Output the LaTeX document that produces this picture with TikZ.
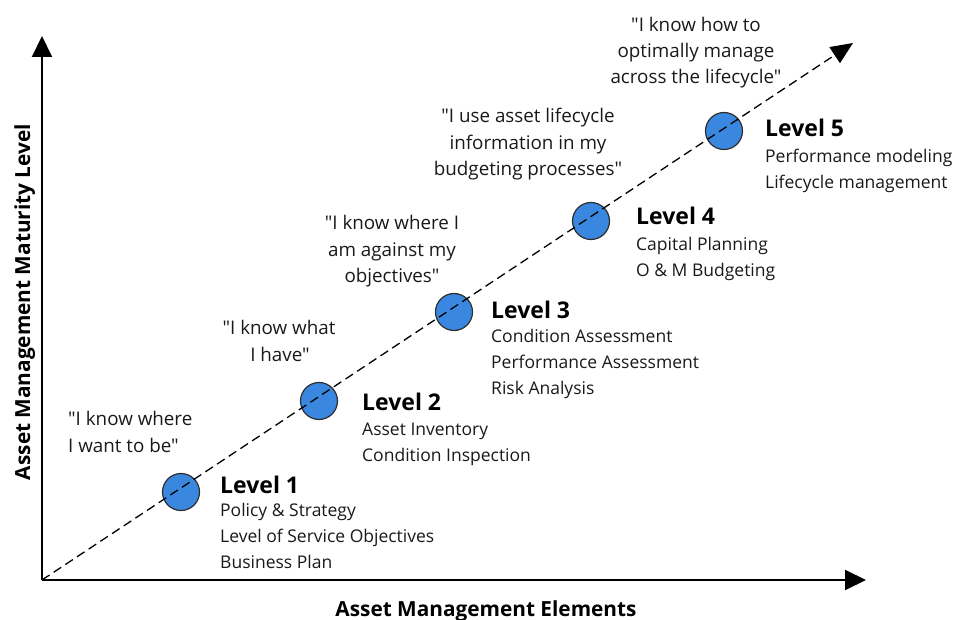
\documentclass[tikz,border=0pt]{standalone}
\usepackage{fontspec}
\newfontfamily\osans{Open Sans}
\usetikzlibrary{arrows.meta}
\definecolor{dotblue}{HTML}{3A87E0}
\definecolor{dotedge}{HTML}{2E2E2E}
\tikzset{
  body/.style={inner sep=0pt, anchor=base west, font=\osans\fontsize{17.5}{20}\selectfont, text=black!90},
  quote/.style={inner sep=0pt, anchor=base, font=\osans\fontsize{18.8}{22}\selectfont, text=black!90},
  ttl/.style={inner sep=0pt, anchor=base west, font=\osans\fontsize{23}{26}\selectfont\bfseries},
  axlabel/.style={inner sep=0pt, font=\osans\fontsize{20.8}{24}\selectfont\bfseries},
  dot/.style={circle, draw=dotedge, fill=dotblue, line width=1.2pt, minimum size=37pt, inner sep=0pt},
  axis/.style={line width=2pt, -{Triangle[length=21pt,width=20pt]}},
  diag/.style={line width=1.3pt, dash pattern=on 9pt off 5pt, -{Triangle[length=22pt,width=19pt]}}
}
\begin{document}
\begin{tikzpicture}[x=1pt,y=-1pt]
\useasboundingbox (0,0) rectangle (956,620);
% axes
\coordinate (O) at (42,580);
\coordinate (ytip) at (42,36);
\coordinate (xtip) at (866,580);
\coordinate (dtip) at (853,43);
\draw[axis] (O) -- (ytip);
\draw[axis] (O) -- (xtip);
% dots
\node[dot] (d1) at (181,492) {};
\node[dot] (d2) at (319,401) {};
\node[dot] (d3) at (454,312) {};
\node[dot] (d4) at (591,221) {};
\node[dot] (d5) at (724,131) {};
\draw[diag] (O) -- (dtip);
% axis labels
\node[axlabel, anchor=base] (xl) at (486,616) {Asset Management Elements};
\node[axlabel, anchor=base, rotate=90] (yl) at (30,302) {Asset Management Maturity Level};
% level 1
\node[ttl] (t1) at (220,493) {Level 1};
\node[body] (t1a) at (220,516) {Policy \& Strategy};
\node[body] (t1b) at (220,542) {Level of Service Objectives};
\node[body] (t1c) at (220,568) {Business Plan};
% level 2
\node[ttl] (t2) at (362,410) {Level 2};
\node[body] (t2a) at (362,435) {Asset Inventory};
\node[body] (t2b) at (362,461) {Condition Inspection};
% level 3
\node[ttl] (t3) at (491,319) {Level 3};
\node[body] (t3a) at (491,342) {Condition Assessment};
\node[body] (t3b) at (491,368) {Performance Assessment};
\node[body] (t3c) at (491,394) {Risk Analysis};
% level 4
\node[ttl] (t4) at (636,225) {Level 4};
\node[body] (t4a) at (636,251) {Capital Planning};
\node[body] (t4b) at (636,277) {O \& M Budgeting};
% level 5
\node[ttl] (t5) at (765,137) {Level 5};
\node[body] (t5a) at (765,163) {Performance modeling};
\node[body] (t5b) at (765,189) {Lifecycle management};
% quotes
\node[quote, anchor=base west] (q1a) at (68,425) {"I know where};
\node[quote, anchor=base west] (q1b) at (68,452) {I want to be"};
\node[quote] (q2a) at (279,335) {"I know what};
\node[quote] (q2b) at (280,362) {I have"};
\node[quote] (q3a) at (392,230) {"I know where I};
\node[quote] (q3b) at (392,257) {am against my};
\node[quote] (q3c) at (392,283) {objectives"};
\node[quote] (q4a) at (528,123) {"I use asset lifecycle};
\node[quote] (q4b) at (528,150) {information in my};
\node[quote] (q4c) at (528,176) {budgeting processes"};
\node[quote] (q5a) at (696,32) {"I know how to};
\node[quote] (q5b) at (696,58) {optimally manage};
\node[quote] (q5c) at (696,84) {across the lifecycle"};
\end{tikzpicture}
\end{document}
